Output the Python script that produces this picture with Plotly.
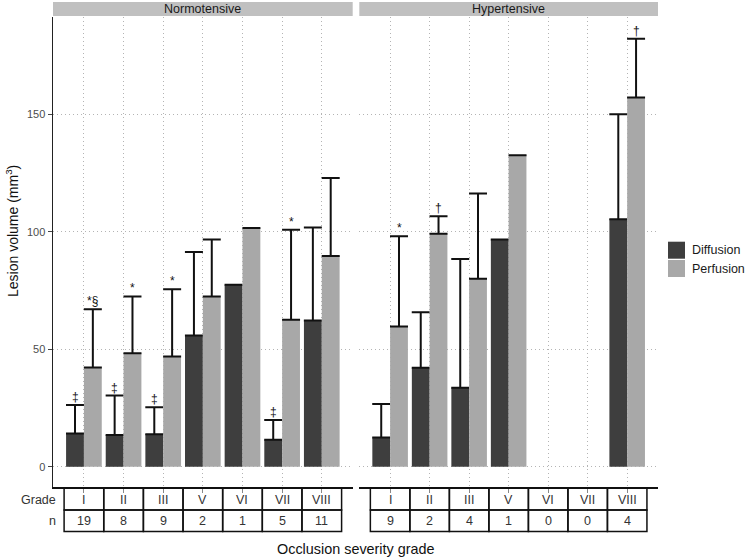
import plotly.graph_objects as go

# ---------------- data ----------------
grades = ["I", "II", "III", "V", "VI", "VII", "VIII"]

normo_n = [19, 8, 9, 2, 1, 5, 11]
normo_diff_mean = [14.2, 13.5, 13.9, 55.9, 77.5, 11.5, 62.3]
normo_diff_sd = [12.1, 16.8, 11.4, 35.5, 0, 8.4, 39.5]
normo_perf_mean = [42.3, 48.3, 46.9, 72.5, 101.6, 62.6, 89.7]
normo_perf_sd = [24.7, 24.2, 28.6, 24.2, 0, 38.3, 33.2]
normo_diff_marks = ["‡", "‡", "‡", "", "", "‡", ""]
normo_perf_marks = ["*§", "*", "*", "", "", "*", ""]

hyper_n = [9, 2, 4, 1, 0, 0, 4]
hyper_diff_mean = [12.5, 42.1, 33.6, 96.7, None, None, 105.3]
hyper_diff_sd = [14.2, 23.7, 54.8, 0, None, None, 44.7]
hyper_perf_mean = [59.7, 99.2, 80.0, 132.6, None, None, 157.1]
hyper_perf_sd = [38.4, 7.4, 36.3, 0, None, None, 25.0]
hyper_diff_marks = ["", "", "", "", "", "", ""]
hyper_perf_marks = ["*", "†", "", "", "", "", "†"]

panels = ["Normotensive", "Hypertensive"]
series_names = ["Diffusion", "Perfusion"]
y_ticks = [0, 50, 100, 150]

# ---------------- style ----------------
FONT = "Liberation Sans, Arial, sans-serif"
DARK = "#3e3e3e"
LIGHT = "#a8a8a8"
GRID = "#b4b4b4"
STRIP = "#c0c0c0"
colors = [DARK, LIGHT]

W, H = 746, 559
ML, MT = 53, 17
PLOT_RIGHT = 658.3
PLOT_BOTTOM = 487
MR = round(W - PLOT_RIGHT)
MB = H - PLOT_BOTTOM
PW = W - ML - MR
PH = H - MT - MB


def px_x(p):
    """pixel x -> paper x"""
    return (p - ML) / PW


def px_y(p):
    """pixel y -> paper y"""
    return (H - MB - p) / PH


fig = go.Figure()

panel_data = [
    ("x", "y", normo_diff_mean, normo_diff_sd, normo_perf_mean, normo_perf_sd,
     normo_diff_marks, normo_perf_marks, normo_n),
    ("x2", "y2", hyper_diff_mean, hyper_diff_sd, hyper_perf_mean, hyper_perf_sd,
     hyper_diff_marks, hyper_perf_marks, hyper_n),
]

annotations = []
shapes = []

for pi, (xa, ya, dm, dsd, pm, psd, dmark, pmark, nn) in enumerate(panel_data):
    for si, (means, sds) in enumerate([(dm, dsd), (pm, psd)]):
        fig.add_trace(go.Bar(
            x=grades, y=means, name=series_names[si],
            marker=dict(color=colors[si], line=dict(width=0)),
            error_y=dict(type="data", array=sds,
                         arrayminus=[0 if v is not None else None for v in sds],
                         symmetric=False, color="#111111", thickness=2, width=9),
            xaxis=xa, yaxis=ya, showlegend=False,
        ))
    # significance marks
    for marks, means, sds, off in [(dmark, dm, dsd, -0.225), (pmark, pm, psd, 0.225)]:
        for i, m in enumerate(marks):
            if m and means[i] is not None:
                annotations.append(dict(
                    x=i + off, y=means[i] + (sds[i] or 0), xref=xa, yref=ya,
                    text=m, showarrow=False, xanchor="center", yanchor="bottom",
                    yshift=-1,
                    font=dict(family=FONT, size=12, color="#111111")))
    # strip
    dom = "x domain" if xa == "x" else "x2 domain"
    shapes.append(dict(type="rect", xref=dom, yref="paper", x0=0, x1=1,
                       y0=px_y(16), y1=px_y(2), fillcolor=STRIP,
                       line=dict(width=0), layer="below"))
    annotations.append(dict(x=0.5, y=px_y(9), xref=dom, yref="paper",
                            text=panels[pi], showarrow=False,
                            xanchor="center", yanchor="middle",
                            font=dict(family=FONT, size=12.5, color="#1a1a1a")))
    # table below the axis
    for i, g in enumerate(grades):
        for y0, y1 in [(px_y(510), px_y(488)), (px_y(531.5), px_y(510))]:
            shapes.append(dict(type="rect", xref=xa, yref="paper",
                               x0=i - 0.5, x1=i + 0.5, y0=y0, y1=y1,
                               line=dict(color="#111111", width=1.5)))
        annotations.append(dict(x=i, y=px_y(499.5), xref=xa, yref="paper",
                                text=g, showarrow=False,
                                xanchor="center", yanchor="middle",
                                font=dict(family=FONT, size=12.5, color="#333333")))
        annotations.append(dict(x=i, y=px_y(521), xref=xa, yref="paper",
                                text=str(nn[i]), showarrow=False,
                                xanchor="center", yanchor="middle",
                                font=dict(family=FONT, size=12.5, color="#333333")))

# row labels of table
for lab, yy in [("Grade", 499.5), ("n", 521)]:
    annotations.append(dict(x=px_x(58), y=px_y(yy), xref="paper", yref="paper",
                            text=lab, showarrow=False, xanchor="right",
                            yanchor="middle",
                            font=dict(family=FONT, size=12.5, color="#333333")))
# axis titles
annotations.append(dict(x=px_x(12), y=px_y(231), xref="paper", yref="paper",
                        text="Lesion volume (mm<sup>3</sup>)", textangle=-90,
                        showarrow=False, xanchor="center", yanchor="middle",
                        font=dict(family=FONT, size=14, color="#111111")))
annotations.append(dict(x=px_x(356), y=px_y(549), xref="paper", yref="paper",
                        text="Occlusion severity grade", showarrow=False,
                        xanchor="center", yanchor="middle",
                        font=dict(family=FONT, size=14.4, color="#111111")))

# legend (keys + labels)
for si, name in enumerate(series_names):
    top = 241.7 + si * 18.3
    shapes.append(dict(type="rect", xref="paper", yref="paper",
                       x0=px_x(668), x1=px_x(685), y0=px_y(top + 17), y1=px_y(top),
                       fillcolor=colors[si], line=dict(width=0)))
    annotations.append(dict(x=px_x(689.5), y=px_y(top + 8.5), xref="paper",
                            yref="paper", text=name, showarrow=False,
                            xanchor="left", yanchor="middle",
                            font=dict(family=FONT, size=12.5, color="#1a1a1a")))

xcommon = dict(type="category", categoryorder="array", categoryarray=grades,
               range=[-0.78, 6.78], showticklabels=False,
               showgrid=True, gridcolor=GRID, griddash="1px,3px", gridwidth=1,
               ticks="outside", ticklen=4, tickcolor="#888888",
               showline=True, linecolor="#111111", linewidth=1.5,
               zeroline=False, fixedrange=True)
ycommon = dict(range=[-8.6, 191.4], tickvals=y_ticks,
               showgrid=True, gridcolor=GRID, griddash="1px,3px", gridwidth=1,
               zeroline=False, fixedrange=True)

fig.update_layout(
    width=W, height=H,
    margin=dict(l=ML, r=MR, t=MT, b=MB, autoexpand=False),
    paper_bgcolor="white", plot_bgcolor="white",
    barmode="group", bargap=0.1, bargroupgap=0,
    showlegend=False, hovermode=False,
    font=dict(family=FONT, size=11, color="#4d4d4d"),
    xaxis=dict(domain=[0, px_x(352.7)], anchor="y", **xcommon),
    xaxis2=dict(domain=[px_x(359.3), 1], anchor="y2", **xcommon),
    yaxis=dict(anchor="x", showline=True, linecolor="#222222", linewidth=1.5,
               ticks="outside", ticklen=4, tickcolor="#444444",
               tickfont=dict(family=FONT, size=11, color="#4d4d4d"), **ycommon),
    yaxis2=dict(anchor="x2", matches="y", showline=False, ticks="",
                showticklabels=False, **ycommon),
    annotations=annotations,
    shapes=shapes,
)

# the page's default body margin would offset the 746x559 figure; remove it
fig.write_html(
    "out.html",
    config={"displayModeBar": False, "staticPlot": True},
    post_script="document.body.style.margin='0px';"
                "document.body.style.overflow='hidden';",
)
